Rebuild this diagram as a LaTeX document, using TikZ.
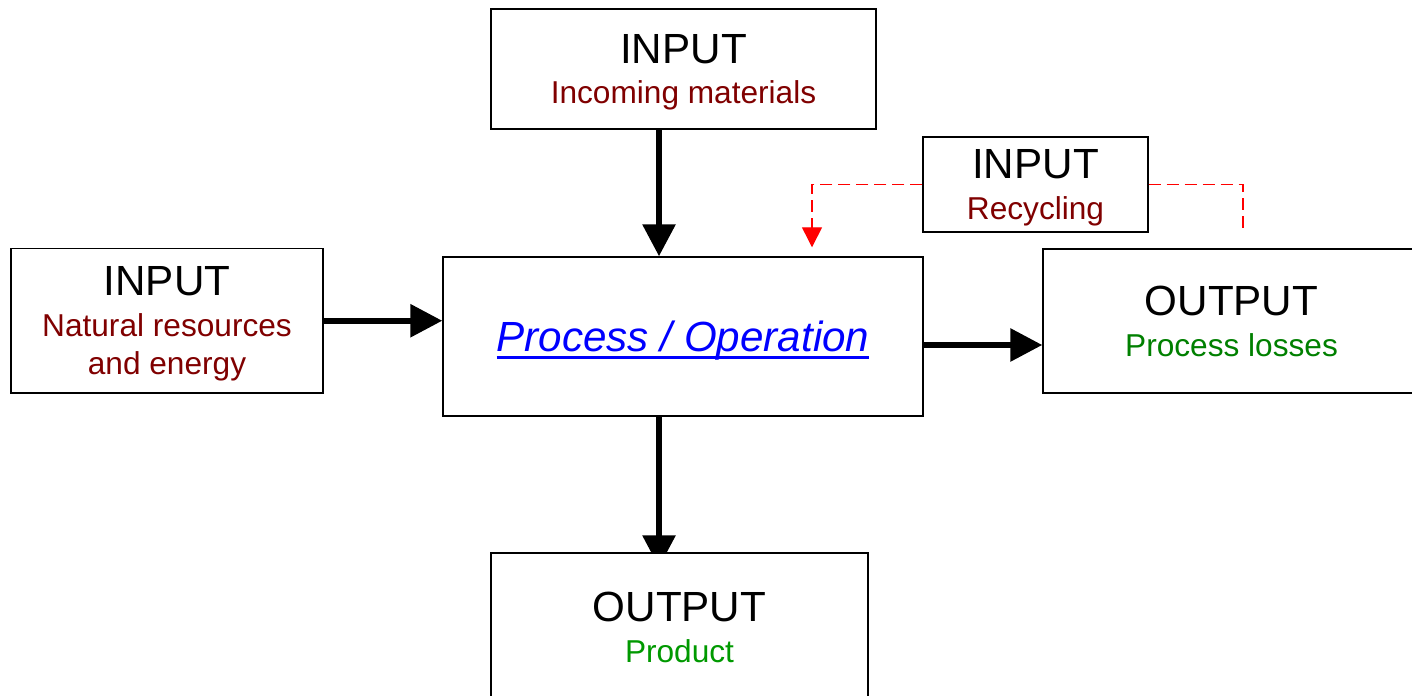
\documentclass[tikz,border=0pt]{standalone}
\usepackage{fontspec}
\setmainfont{Liberation Sans}
\usetikzlibrary{arrows.meta}
\usetikzlibrary{backgrounds}

\definecolor{inred}{RGB}{128,0,0}
\definecolor{outgreen}{RGB}{0,128,0}
\definecolor{prodgreen}{RGB}{0,153,0}

\newcommand{\bigline}[1]{{\fontsize{24}{23.2}\selectfont #1}}
\newcommand{\procline}[1]{\setbox0\hbox{#1}\rlap{\rule[-4pt]{\wd0}{1.6pt}}\box0}

\begin{document}
\begin{tikzpicture}[
    box/.style={draw, line width=0.8pt, fill=white, align=center, inner sep=0pt,
                text depth=0pt, font=\fontsize{18}{23.2}\selectfont},
    flow/.style={line width=0.12cm, -{Triangle[length=0.64cm, width=0.64cm]}},
    recycle/.style={red, line width=0.8pt, dash pattern=on 0.24cm off 0.12cm}
  ]
  \useasboundingbox (0,0) rectangle (28.24,13.92);
  \clip (0,0) rectangle (28.24,13.92);

  % boxes
  \node[box, minimum width=7.7cm, minimum height=2.4cm] (inc) at (13.67,12.54)
    {\bigline{INPUT}\\\textcolor{inred}{Incoming materials}};
  \node[box, minimum width=4.5cm, minimum height=1.9cm] (rec) at (20.71,10.23)
    {\bigline{INPUT}\\\textcolor{inred}{Recycling}};
  \node[box, minimum width=6.24cm, minimum height=2.89cm] (nat) at (3.34,7.505)
    {\bigline{INPUT}\\\textcolor{inred}{Natural resources}\\[-1.7pt]\textcolor{inred}{and energy}};
  \node[box, minimum width=9.6cm, minimum height=3.18cm, text=blue,
        font=\fontsize{24}{28}\selectfont\itshape] (prc) at (13.66,7.19)
    {\procline{Process / Operation}};
  \node[box, minimum width=7.54cm, minimum height=2.88cm] (los) at (24.63,7.5)
    {\bigline{OUTPUT}\\\textcolor{outgreen}{Process losses}};
  \node[box, minimum width=7.54cm, minimum height=2.96cm] (prd) at (13.59,1.38)
    {\bigline{OUTPUT}\\\textcolor{prodgreen}{Product}};

  \coordinate (axis) at (13.18,0);
  \coordinate (lossy) at (0,7.02);

  % main flows, kept under the boxes
  \begin{scope}[on background layer]
    \draw[flow] (inc.south -| axis) -- (prc.north -| axis);
    \draw[flow] (nat.east) -- (nat.east -| prc.west);
    \draw[flow] (prc.east |- lossy) -- (los.west |- lossy);
    \draw[flow, shorten >=-0.3cm] (prc.south -| axis) -- (prd.north -| axis);
  \end{scope}

  % recycling loop
  \draw[recycle, -{Triangle[length=0.4cm, width=0.4cm]}, shorten >=0.18cm]
    (rec.west) -| ([xshift=2.58cm]prc.north);
  \draw[recycle, shorten >=0.32cm] (rec.east) -| ([xshift=0.23cm]los.north);
\end{tikzpicture}
\end{document}
